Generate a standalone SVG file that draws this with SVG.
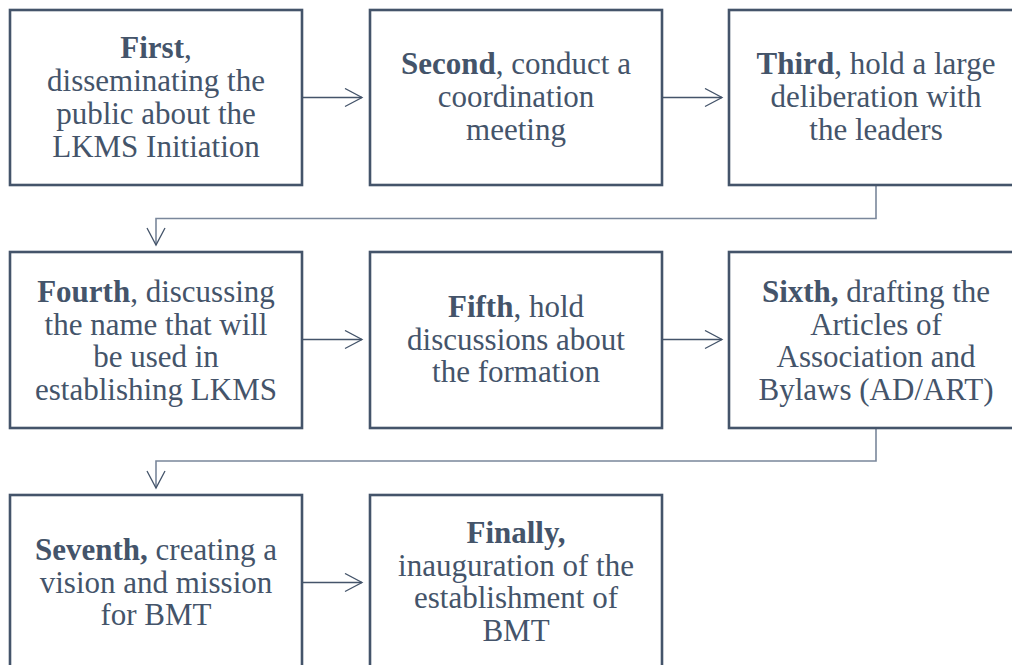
<svg xmlns="http://www.w3.org/2000/svg" width="1012" height="665" viewBox="0 0 1012 665">
<style>
.box{fill:#ffffff;stroke:#44546a;stroke-width:2.6}
.t{font-family:'Liberation Serif', 'Times New Roman', Times, serif;font-size:31px;fill:#44546a;text-anchor:middle}
.b{font-weight:bold}
.c{fill:none;stroke:#44546a;stroke-width:1.3}
.e{fill:none;stroke:#7a879b;stroke-width:1.6}
</style>
<defs>
<marker id="arr" markerUnits="userSpaceOnUse" markerWidth="20" markerHeight="20" refX="17" refY="9" orient="auto" viewBox="-1 -1 20 20">
<path d="M0,0 L17,9 L0,18" fill="none" stroke="#44546a" stroke-width="1.3"/>
</marker>
</defs>
<rect width="1012" height="665" fill="#ffffff"/>
<g id="connectors">
<line class="c" x1="302" y1="97.5" x2="362" y2="97.5" marker-end="url(#arr)"/>
<line class="c" x1="662" y1="97.5" x2="722" y2="97.5" marker-end="url(#arr)"/>
<polyline class="e" points="876,185 876,218.5 156,218.5 156,245" marker-end="url(#arr)"/>
<line class="c" x1="302" y1="339.5" x2="362" y2="339.5" marker-end="url(#arr)"/>
<line class="c" x1="662" y1="339.5" x2="722" y2="339.5" marker-end="url(#arr)"/>
<polyline class="e" points="876,428 876,461 156,461 156,488" marker-end="url(#arr)"/>
<line class="c" x1="302" y1="582.5" x2="362" y2="582.5" marker-end="url(#arr)"/>
</g>
<g font-family="Liberation Serif">
<g id="n1">
<rect class="box" x="10" y="10" width="292" height="175"/>
<text class="t" font-family="Liberation Serif" x="156" y="58"><tspan class="b">First</tspan>,</text>
<text class="t" font-family="Liberation Serif" x="156" y="91">disseminating the</text>
<text class="t" font-family="Liberation Serif" x="156" y="124">public about the</text>
<text class="t" font-family="Liberation Serif" x="156" y="157">LKMS Initiation</text>
</g>
<g id="n2">
<rect class="box" x="370" y="10" width="292" height="175"/>
<text class="t" x="516" y="74"><tspan class="b">Second</tspan>, conduct a</text>
<text class="t" x="516" y="107">coordination</text>
<text class="t" x="516" y="140">meeting</text>
</g>
<g id="n3">
<rect class="box" x="729" y="10" width="294" height="175"/>
<text class="t" x="876" y="74"><tspan class="b">Third</tspan>, hold a large</text>
<text class="t" x="876" y="107">deliberation with</text>
<text class="t" x="876" y="140">the leaders</text>
</g>
<g id="n4">
<rect class="box" x="10" y="252" width="292" height="176"/>
<text class="t" x="156" y="302"><tspan class="b">Fourth</tspan>, discussing</text>
<text class="t" x="156" y="334.5">the name that will</text>
<text class="t" x="156" y="367">be used in</text>
<text class="t" x="156" y="399.5">establishing LKMS</text>
</g>
<g id="n5">
<rect class="box" x="370" y="252" width="292" height="176"/>
<text class="t" x="516" y="317"><tspan class="b">Fifth</tspan>, hold</text>
<text class="t" x="516" y="349.5">discussions about</text>
<text class="t" x="516" y="382">the formation</text>
</g>
<g id="n6">
<rect class="box" x="729" y="252" width="294" height="176"/>
<text class="t" x="876" y="302"><tspan class="b">Sixth,</tspan> drafting the</text>
<text class="t" x="876" y="334.5">Articles of</text>
<text class="t" x="876" y="367">Association and</text>
<text class="t" x="876" y="399.5">Bylaws (AD/ART)</text>
</g>
<g id="n7">
<rect class="box" x="10" y="495" width="292" height="190"/>
<text class="t" x="156" y="560"><tspan class="b">Seventh,</tspan> creating a</text>
<text class="t" x="156" y="592.5">vision and mission</text>
<text class="t" x="156" y="625">for BMT</text>
</g>
<g id="n8">
<rect class="box" x="370" y="495" width="292" height="190"/>
<text class="t" x="516" y="543"><tspan class="b">Finally,</tspan></text>
<text class="t" x="516" y="575.5">inauguration of the</text>
<text class="t" x="516" y="608">establishment of</text>
<text class="t" x="516" y="640.5">BMT</text>
</g>
</g>
</svg>
